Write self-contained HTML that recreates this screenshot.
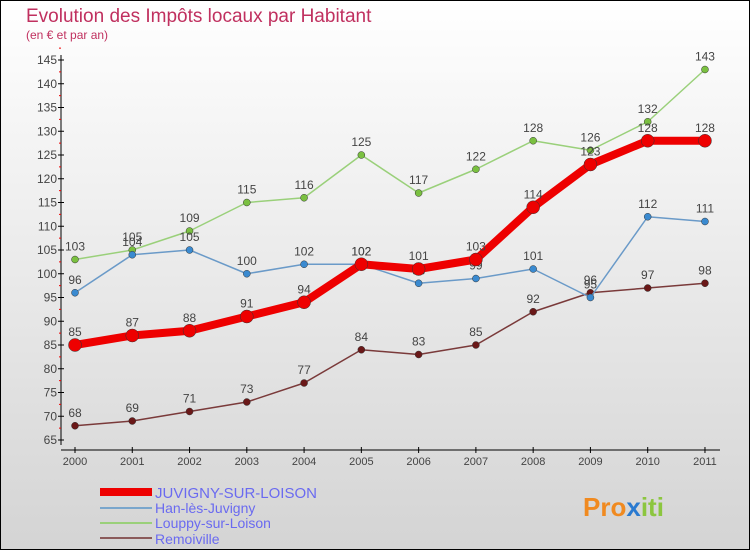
<!DOCTYPE html>
<html><head><meta charset="utf-8"><style>
body{margin:0}
svg{display:block;font-family:"Liberation Sans",sans-serif}
</style></head><body>
<svg id="c" width="750" height="550" xmlns="http://www.w3.org/2000/svg">
<defs><linearGradient id="bg" x1="0" y1="0" x2="0" y2="1"><stop offset="0" stop-color="#ffffff"/><stop offset="1" stop-color="#d4d4d4"/></linearGradient></defs>
<rect x="0.5" y="0.5" width="749" height="549" fill="url(#bg)" stroke="#000"/>
<text x="26" y="22" font-size="19" fill="#c0305f">Evolution des Impôts locaux par Habitant</text>
<text x="26" y="39" font-size="12" fill="#c0305f">(en € et par an)</text>
<g id="axes"></g><g id="series"></g>
<g>
<rect x="100" y="488" width="52" height="8" fill="#e00"/>
<text x="155" y="498" font-size="15" fill="#6a6af0">JUVIGNY-SUR-LOISON</text>
<line x1="100" y1="508" x2="152" y2="508" stroke="#7aa6cc" stroke-width="2"/>
<text x="155" y="513" font-size="14" fill="#6a6af0">Han-lès-Juvigny</text>
<line x1="100" y1="523" x2="152" y2="523" stroke="#9ad07a" stroke-width="2"/>
<text x="155" y="528" font-size="14" fill="#6a6af0">Louppy-sur-Loison</text>
<line x1="100" y1="538" x2="152" y2="538" stroke="#8a5a5a" stroke-width="2"/>
<text x="155" y="544" font-size="14" fill="#6a6af0">Remoiville</text>
</g>
<text x="583" y="516" font-size="26" font-weight="bold" fill="#f08a20">Pro<tspan fill="#2a7ad0">x</tspan><tspan fill="#8cc63f">iti</tspan></text>
</svg>
<script>
const years=[2000,2001,2002,2003,2004,2005,2006,2007,2008,2009,2010,2011];
const juvigny=[85,87,88,91,94,102,101,103,114,123,128,128];
const han=[96,104,105,100,102,102,98,99,101,95,112,111];
const louppy=[103,105,109,115,116,125,117,122,128,126,132,143];
const remoiville=[68,69,71,73,77,84,83,85,92,96,97,98];
const yTicks=[65,70,75,80,85,90,95,100,105,110,115,120,125,130,135,140,145];
const NS="http://www.w3.org/2000/svg";
const X=i=>75+i*57.27, Y=v=>440-(v-65)*4.75;
function mk(p,t,a){const e=document.createElementNS(NS,t);for(const k in a)e.setAttribute(k,a[k]);p.appendChild(e);return e;}
const ax=document.getElementById('axes');
let l=mk(ax,'line',{x1:61,y1:55,x2:61,y2:445,stroke:'#000'});


l=mk(ax,'line',{x1:61,y1:450,x2:720,y2:450,stroke:'#000'});


yTicks.forEach(v=>{
 mk(ax,'line',{x1:58,y1:Y(v),x2:64,y2:Y(v),stroke:'#000'});
 mk(ax,'line',{x1:59,y1:Y(v+2.5),x2:61,y2:Y(v+2.5),stroke:'#e00'});
 const t=mk(ax,'text',{x:57,y:Y(v)+4,'font-size':12,'text-anchor':'end',fill:'#444'});t.textContent=v;
 
 
});
years.forEach((y,i)=>{
 mk(ax,'line',{x1:X(i),y1:447,x2:X(i),y2:453,stroke:'#000'});
 const t=mk(ax,'text',{x:X(i),y:465,'font-size':11,'text-anchor':'middle',fill:'#444'});t.textContent=y;
 
 
});
const sg=document.getElementById('series');
function series(d,name,col,w,r,dot){
 const g=mk(sg,'g',{});
 
 
 mk(g,'polyline',{points:d.map((v,i)=>X(i)+','+Y(v)).join(' '),fill:'none',stroke:col,'stroke-width':w,'stroke-linejoin':'round'});
 d.forEach((v,i)=>{
  const c=mk(g,'circle',{cx:X(i),cy:Y(v),r:r,fill:dot,stroke:'#333','stroke-width':0.5});
  
  
  const t=mk(g,'text',{x:X(i),y:Y(v)-9,'font-size':12,'text-anchor':'middle',fill:'#444'});t.textContent=v;
  
  
 });
}
series(remoiville,'remoiville','#7a3a3a',1.5,3.5,'#6a1818');
series(louppy,'louppy','#9ad07a',1.5,3.5,'#7ac040');
series(han,'han','#6a9ac8',1.5,3.5,'#3a8ad0');
series(juvigny,'juvigny','#e00',8,6.5,'#e00');
</script>
</body></html>
